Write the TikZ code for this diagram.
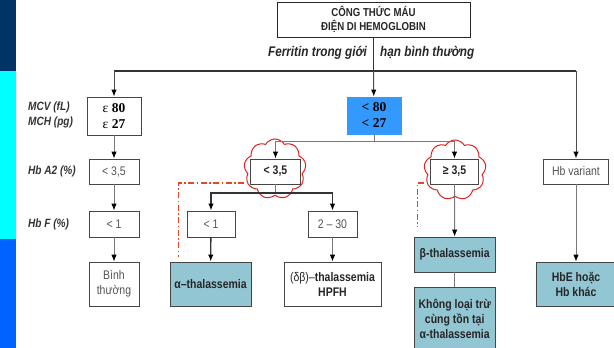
\documentclass[tikz,border=0pt]{standalone}
\usepackage{fontspec}
\setmainfont[FakeStretch=0.84]{Liberation Sans}
\newfontfamily\serifnum{Liberation Serif}
\usetikzlibrary{shapes.symbols}
\usetikzlibrary{arrows.meta}
\definecolor{stripnavy}{RGB}{0,51,102}
\definecolor{stripcyan}{RGB}{0,255,255}
\definecolor{stripblue}{RGB}{0,98,255}
\definecolor{lowblue}{RGB}{51,153,255}
\definecolor{resultteal}{RGB}{147,198,211}
\definecolor{cloudred}{RGB}{222,34,34}
\definecolor{alertred}{RGB}{226,72,40}
\definecolor{edgegrey}{RGB}{70,70,70}
\definecolor{linegrey}{RGB}{120,120,120}
\definecolor{textgrey}{RGB}{85,85,85}
\tikzset{>={Latex[length=7pt,width=5.5pt,color=black]}}
\tikzset{
	box/.style={draw=edgegrey, line width=0.9pt, fill=white, align=center, inner sep=1pt,
		text=textgrey, font=\fontsize{12.5}{15}\selectfont},
	boldbox/.style={box, text=black!85, font=\fontsize{12.5}{15}\selectfont\bfseries},
	result/.style={boldbox, fill=resultteal},
	rowlabel/.style={anchor=west, align=left, inner sep=0pt, text=black!80,
		font=\fontsize{12}{15}\selectfont\bfseries\itshape},
	busline/.style={draw=black!80, line width=1.3pt},
	dropline/.style={draw=black!70, line width=1pt},
	greyline/.style={draw=linegrey, line width=0.9pt},
	cutoff/.style={draw=cloudred, line width=1pt, cloud, cloud puffs=9, cloud puff arc=120,
		cloud ignores aspect, inner sep=0pt},
	alertline/.style={draw=alertred, line width=1.2pt, dash pattern=on 6pt off 2.5pt on 1.5pt off 2.5pt},
}
\newcommand{\indexfont}{\fontsize{13.5}{16}\selectfont\serifnum\bfseries}

\begin{document}
\begin{tikzpicture}[x=1pt,y=-1pt]
	\useasboundingbox (0,0) rectangle (614,348);
	\clip (0,0) rectangle (614,348);

	% side bands
	\foreach \col/\ya/\yb in {stripnavy/0/71, stripcyan/71/239, stripblue/239/348}
		\fill[\col] (0,\ya) rectangle (16,\yb);

	% head of the chart
	\node[boldbox, draw=black!85, minimum width=193pt, minimum height=35pt,
		font=\fontsize{11.5}{14.5}\selectfont\bfseries] (blood) at (373.5,19.5)
		{CÔNG THỨC MÁU\\ĐIỆN DI HEMOGLOBIN};
	\node[anchor=east, inner sep=0pt, text=black!85, font=\fontsize{14}{15}\selectfont\bfseries\itshape]
		(ferritinL) at (367,53) {Ferritin trong giới};
	\node[anchor=west, inner sep=0pt, text=black!85, font=\fontsize{14}{15}\selectfont\bfseries\itshape]
		(ferritinR) at (380,53) {hạn bình thường};

	% row labels
	\node[rowlabel] (mcvlab) at (28,114.5) {MCV (fL)\\MCH (pg)};
	\node[rowlabel] (a2lab) at (28,171.5) {Hb A2 (\%)};
	\node[rowlabel] (hbflab) at (28,224) {Hb F (\%)};

	% MCV / MCH
	\node[box, text=black, minimum width=54pt, minimum height=38pt, font=\indexfont] (mcv) at (114,116)
		{{\mdseries ε} 80\\{\mdseries ε} 27};
	\node[box, fill=lowblue, draw=lowblue, text=black, minimum width=54pt, minimum height=37pt,
		font=\indexfont] (micro) at (374,115.5) {<~80\\<~27};

	% Hb A2
	\node[box, minimum width=50pt, minimum height=25pt] (a2n) at (114,171.5) {< 3,5};
	\node[boldbox, minimum width=50pt, minimum height=25pt] (a2lo) at (275.5,171.5) {< 3,5};
	\node[boldbox, minimum width=48pt, minimum height=25pt] (a2hi) at (454.5,171.5) {≥ 3,5};
	\node[box, minimum width=65pt, minimum height=25pt] (variant) at (576,171.5) {Hb variant};

	% Hb F
	\node[box, minimum width=50pt, minimum height=26pt] (hbfn) at (114,224) {< 1};
	\node[box, minimum width=48pt, minimum height=26pt] (hbflo) at (211,224) {< 1};
	\node[box, minimum width=49pt, minimum height=26pt] (hbfhi) at (332.5,224) {2 – 30};

	% conclusions
	\node[box, minimum width=50pt, minimum height=44pt] (normal) at (114,284) {Bình\\thường};
	\node[result, minimum width=81pt, minimum height=44pt] (alpha) at (210.5,284) {α–thalassemia};
	\node[boldbox, minimum width=97pt, minimum height=44pt] (deltabeta) at (332.5,284)
		{\mdseries(δβ)–\bfseries thalassemia\\HPFH};
	\node[result, minimum width=81.5pt, minimum height=35pt] (beta) at (454.7,254.5) {β-thalassemia};
	\node[result, minimum width=81.5pt, minimum height=64pt] (notexcl) at (454.7,319)
		{Không loại trừ\\cùng tồn tại\\α-thalassemia};
	\node[result, minimum width=80pt, minimum height=44pt] (hbe) at (576,284) {HbE hoặc\\Hb khác};

	% marked cut-offs
	\node[cutoff, minimum width=62pt, minimum height=60pt] (cloudlo) at (275,169) {};
	\node[cutoff, minimum width=62pt, minimum height=60pt] (cloudhi) at (455,170) {};

	% main bus
	\coordinate (split) at (373.5,71);
	\coordinate (busL) at (114,71);
	\coordinate (busR) at (576,71);
	\draw[busline] (blood) -- (split);
	\draw[busline] (busL) -- (busR);
	\draw[dropline,->] (busL) -- (mcv);
	\draw[dropline,->] (split) -- (micro);
	\draw[dropline,->] (busR) -- (variant);

	% left column
	\draw[greyline,->] (mcv) -- (a2n);
	\draw[greyline,->] (a2n) -- (hbfn);
	\draw[greyline,->] (hbfn) -- (normal);

	% microcytic branch
	\coordinate (fork) at (374,141.5);
	\draw[greyline] (micro) -- (fork);
	\draw[greyline,->] (fork) -| (a2lo);
	\draw[greyline,->] (fork) -| (a2hi);

	\coordinate (split2) at (275.5,193);
	\draw[greyline] (a2lo) -- (split2);
	\draw[busline,->] (split2) -| (hbflo);
	\draw[busline,->] (split2) -| (hbfhi);
	\draw[busline,->] (hbflo) -- (alpha);
	\draw[greyline,->] (hbfhi) -- (deltabeta);

	\draw[greyline,->] (a2hi) -- (beta);
	\draw[greyline] (beta) -- (notexcl);
	\draw[greyline,->] (variant) -- (hbe);

	% dash-dot hints
	\coordinate (cornerA) at (178.5,183);
	\coordinate (tipA) at (178.5,257);
	\draw[alertline] (cornerA -| cloudlo.west) -- (cornerA) -- (tipA);
	\coordinate (cornerB) at (417.5,183);
	\coordinate (tipB) at (417.5,227);
	\draw[alertline] (cornerB -| cloudhi.west) -- (cornerB) -- (tipB);
\end{tikzpicture}
\end{document}
